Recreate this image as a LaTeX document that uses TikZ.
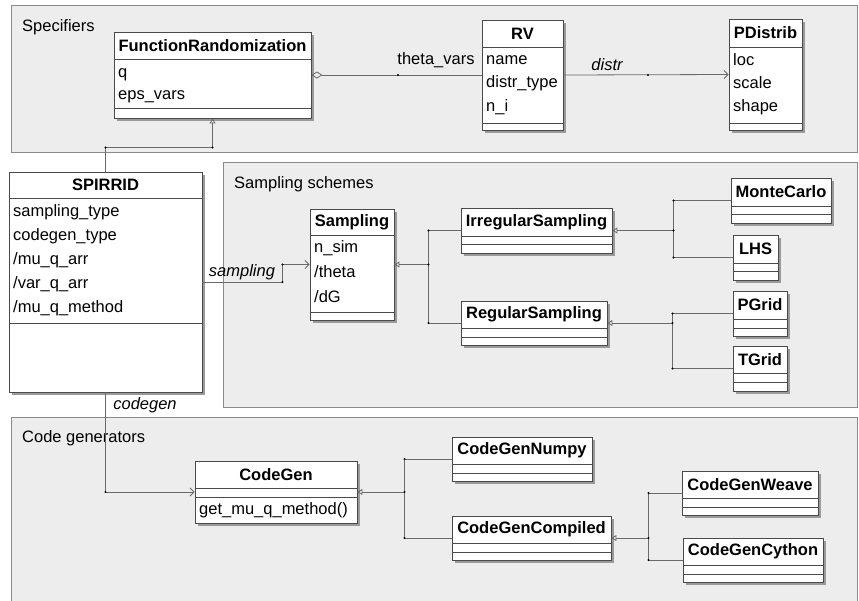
\documentclass[tikz,border=0pt]{standalone}
\usepackage{fontspec}
\setmainfont{Liberation Sans}
\usetikzlibrary{arrows.meta,fit,calc}
\definecolor{pkgfill}{HTML}{EDEDED}
\definecolor{pkgline}{HTML}{8A8A8A}
\definecolor{clsline}{HTML}{4A4A4A}
\definecolor{shadowc}{HTML}{9A9A9A}
\definecolor{conn}{HTML}{6A6A6A}
\newcommand\dfont{\fontsize{16.5}{20}\selectfont}
\tikzset{
 pkg/.style={draw=pkgline, fill=pkgfill, line width=0.9pt},
 clsbox/.style={draw=clsline, fill=white, inner sep=0pt, line width=0.9pt},
 sepline/.style={draw=clsline, line width=0.8pt},
 titletxt/.style={font=\dfont\bfseries, inner sep=0pt, anchor=center},
 attrtxt/.style={font=\dfont, inner sep=0pt, anchor=west},
 pkgtxt/.style={font=\dfont, inner sep=0pt, anchor=west},
 roletxt/.style={font=\dfont\itshape, inner sep=0pt},
 plaintxt/.style={font=\dfont, inner sep=0pt},
 link/.style={draw=conn, line width=0.8pt},
 gen/.style={link, -{Triangle[open,length=5pt,width=6pt]}},
 nav/.style={link, -{Straight Barb[length=4pt,width=8pt]}},
 agg/.style={link, {Diamond[open,length=11pt,width=7pt]}-},
 jdot/.style={circle, fill=black, inner sep=0pt, minimum size=2.2pt},
}
% #1 name, #2 x1, #3 y1, #4 x2, #5 y2, #6 sep1, #7 sep2, #8 title
\newcommand\umlcls[8]{%
  \fill[shadowc] (#2+3,#3+3) rectangle (#4+3,#5+3);
  \node[clsbox, fit={(#2,#3)(#4,#5)}] (#1) {};
  \draw[sepline] (#2,#6) -- (#4,#6) (#2,#7) -- (#4,#7);
  \node[titletxt] (#1-title) at ({(#2+#4)/2},{(#3+#6)/2}) {#8};
}
\begin{document}
\begin{tikzpicture}[x=1pt,y=-1pt]
\useasboundingbox (0,0) rectangle (859,600);
\clip (0,0) rectangle (859,600);
% packages
\draw[pkg] (11,5) rectangle (857,152);
\node[pkgtxt] (pk1) at (22,27) {Specifiers};
\draw[pkg] (223,162) rectangle (857,407);
\node[pkgtxt] (pk2) at (234,184) {Sampling schemes};
\draw[pkg] (11,417) rectangle (857,612);
\node[pkgtxt] (pk3) at (22,438) {Code generators};

% classes
\umlcls{fr}{114}{32}{311}{118}{59}{108}{FunctionRandomization}
\node[attrtxt] (fr-a1) at (118,75) {q};
\node[attrtxt] (fr-a2) at (118,97) {eps\_vars};

\umlcls{rv}{482}{20}{563}{130}{47}{123}{RV}
\node[attrtxt] (rv-a1) at (486,60) {name};
\node[attrtxt] (rv-a2) at (486,83) {distr\_type};
\node[attrtxt] (rv-a3) at (486,107) {n\_i};

\umlcls{pd}{729}{19}{802}{130}{47}{123}{PDistrib}
\node[attrtxt] (pd-a1) at (733,60) {loc};
\node[attrtxt] (pd-a2) at (733,83) {scale};
\node[attrtxt] (pd-a3) at (733,107) {shape};

\umlcls{sp}{9}{172}{202}{392}{198}{323}{SPIRRID}
\node[attrtxt] (sp-a1) at (13,212) {sampling\_type};
\node[attrtxt] (sp-a2) at (13,236) {codegen\_type};
\node[attrtxt] (sp-a3) at (13,260) {/mu\_q\_arr};
\node[attrtxt] (sp-a4) at (13,284) {/var\_q\_arr};
\node[attrtxt] (sp-a5) at (13,308) {/mu\_q\_method};

\umlcls{sa}{310}{209}{394}{320}{235}{312}{Sampling}
\node[attrtxt] (sa-a1) at (314,248) {n\_sim};
\node[attrtxt] (sa-a2) at (314,272) {/theta};
\node[attrtxt] (sa-a3) at (314,297) {/dG};

\umlcls{irr}{461}{208}{612}{253}{236}{244}{IrregularSampling}
\umlcls{reg}{461}{301}{607}{345}{328}{337}{RegularSampling}
\umlcls{mc}{731}{178}{831}{223}{206}{214}{MonteCarlo}
\umlcls{lhs}{733}{235}{778}{280}{263}{271}{LHS}
\umlcls{pg}{733}{291}{787}{336}{319}{328}{PGrid}
\umlcls{tg}{733}{346}{787}{391}{373}{382}{TGrid}

\umlcls{cg}{195}{461}{357}{523}{488}{497}{CodeGen}
\node[attrtxt] (cg-m1) at (199,510) {get\_mu\_q\_method()};
\umlcls{np}{452}{437}{592}{481}{464}{473}{CodeGenNumpy}
\umlcls{cc}{452}{516}{611}{560}{543}{552}{CodeGenCompiled}
\umlcls{cw}{682}{471}{818}{515}{498}{507}{CodeGenWeave}
\umlcls{cy}{683}{538}{823}{582}{565}{574}{CodeGenCython}

% associations
\draw[agg] (fr.east) -- (rv.west);
\node[plaintxt] (l1) at (436,60) {theta\_vars};
\node[jdot] (d1) at (398,75) {};
\draw[nav] (rv.east) -- (pd.west);
\node[roletxt] (l2) at (607,65) {distr};
\node[jdot] (d2) at (648,75) {};

\coordinate (bs) at ([xshift=-27pt]sa.west);
\draw[nav] (sp.east) -| (bs) -- (sa.west);
\node[roletxt] (l3) at (242,272) {sampling};
\node[jdot] at (bs) {};
\node[jdot] at (bs |- sp.east) {};

\draw[nav] (sp.south) |- (cg.west);
\node[roletxt] (l4) at (145,405) {codegen};
\node[jdot] at (sp.south |- cg.west) {};

% generalizations
\coordinate (b0) at ([yshift=-29pt]fr.south);
\draw[gen] (sp.north) |- (b0) -- (fr.south);
\node[jdot] at (b0) {};
\node[jdot] at (sp.north |- b0) {};

\coordinate (j1) at ([xshift=34pt]sa.east);
\draw[link] (irr.west) -| (j1);
\draw[link] (reg.west) -| (j1);
\draw[gen] (j1) -- (sa.east);
\node[jdot] at (j1) {};
\node[jdot] at (j1 |- irr.west) {};
\node[jdot] at (j1 |- reg.west) {};

\coordinate (j2) at ([xshift=61pt]irr.east);
\draw[link] (mc.west) -| (j2);
\draw[link] (lhs.west) -| (j2);
\draw[gen] (j2) -- (irr.east);
\node[jdot] at (j2) {};
\node[jdot] at (j2 |- mc.west) {};
\node[jdot] at (j2 |- lhs.west) {};

\coordinate (j3) at ([xshift=65pt]reg.east);
\draw[link] (pg.west) -| (j3);
\draw[link] (tg.west) -| (j3);
\draw[gen] (j3) -- (reg.east);
\node[jdot] at (j3) {};
\node[jdot] at (j3 |- pg.west) {};
\node[jdot] at (j3 |- tg.west) {};

\coordinate (j4) at ([xshift=47pt]cg.east);
\draw[link] (np.west) -| (j4);
\draw[link] (cc.west) -| (j4);
\draw[gen] (j4) -- (cg.east);
\node[jdot] at (j4) {};
\node[jdot] at (j4 |- np.west) {};
\node[jdot] at (j4 |- cc.west) {};

\coordinate (j5) at ([xshift=37pt]cc.east);
\draw[link] (cw.west) -| (j5);
\draw[link] (cy.west) -| (j5);
\draw[gen] (j5) -- (cc.east);
\node[jdot] at (j5) {};
\node[jdot] at (j5 |- cw.west) {};
\node[jdot] at (j5 |- cy.west) {};
\end{tikzpicture}
\end{document}
